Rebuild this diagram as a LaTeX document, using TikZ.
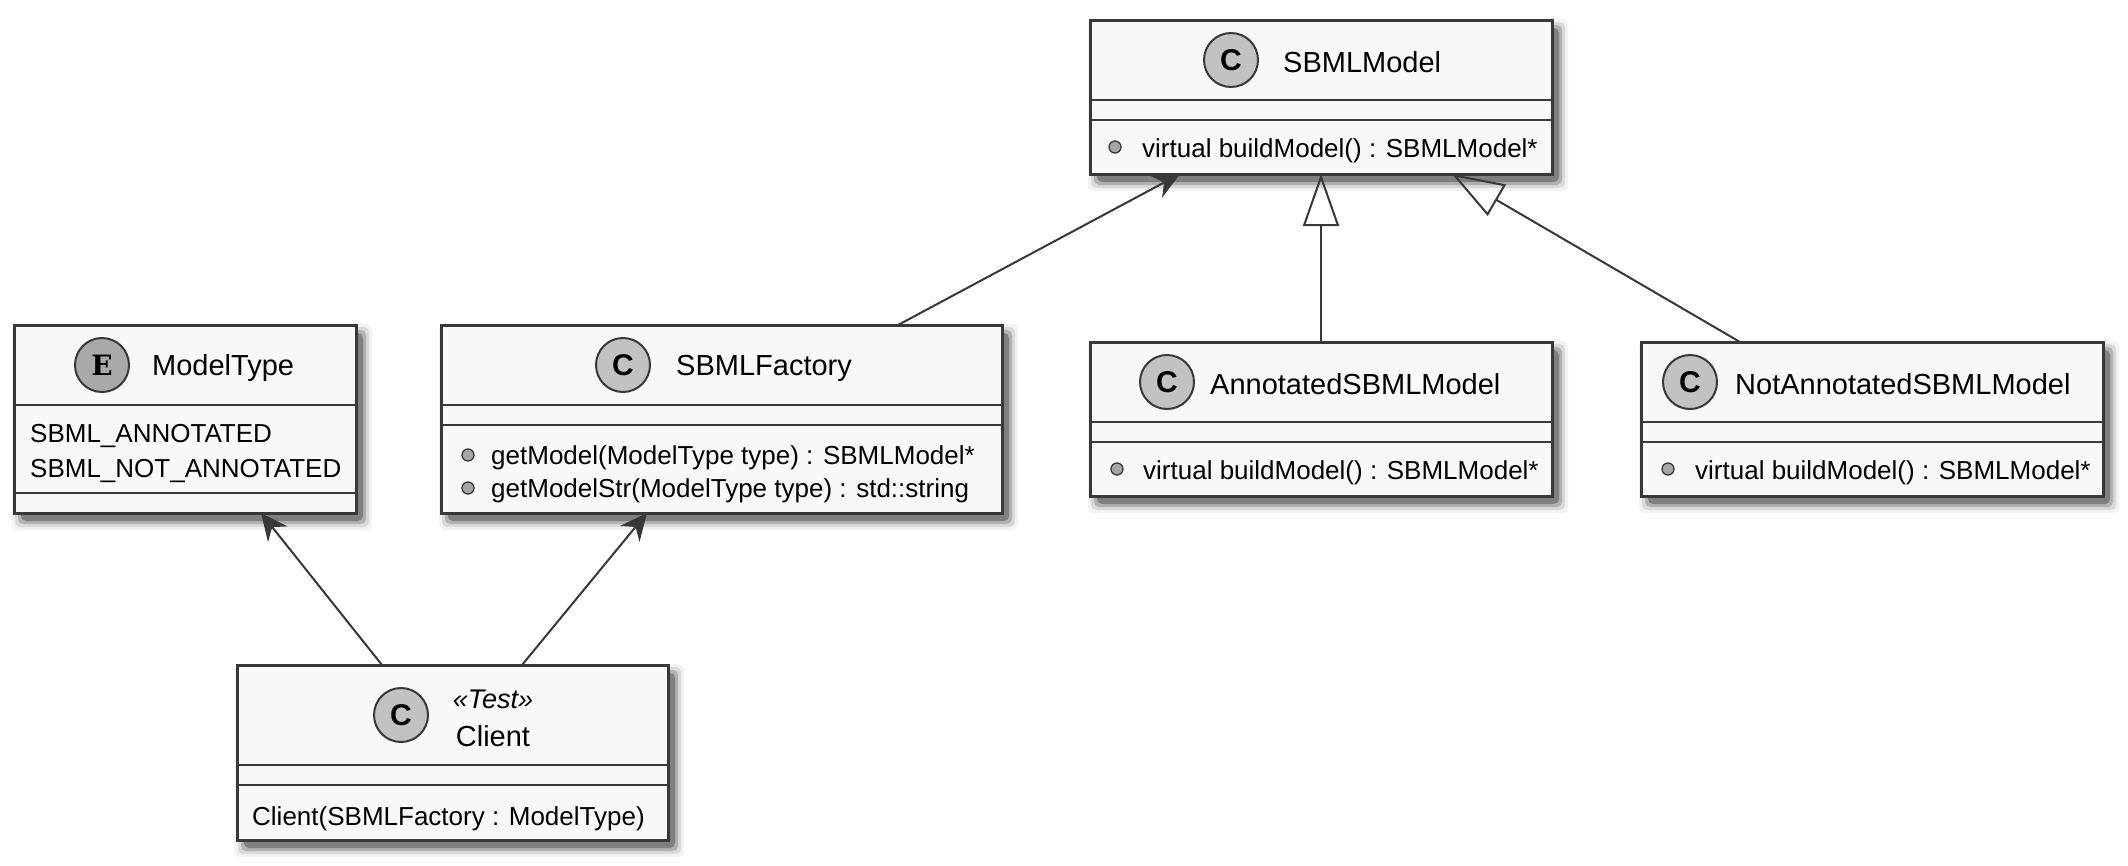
\documentclass[tikz,border=0pt]{standalone}
\usepackage{fontspec}
\setmainfont{Liberation Sans}
\newfontfamily\umlslab{DejaVu Serif}
\usetikzlibrary{arrows.meta,calc,backgrounds}
\definecolor{umlline}{HTML}{383838}
\definecolor{umlfill}{HTML}{F8F8F8}
\definecolor{cfill}{HTML}{C2C2C2}
\definecolor{efill}{HTML}{A9A9A9}
\definecolor{mfill}{HTML}{A6A6A6}
\tikzset{
  classbox/.style={draw=umlline, fill=umlfill, line width=3pt, rectangle, inner sep=0pt, outer sep=0pt},
  sepline/.style={draw=umlline, line width=2.5pt},
  badge/.style={circle, draw=umlline, line width=2pt, minimum size=54pt, inner sep=0pt},
  badgeC/.style={badge, fill=cfill, font=\fontsize{30}{30}\selectfont\bfseries},
  badgeE/.style={badge, fill=efill, font=\umlslab\fontsize{28}{28}\selectfont\bfseries},
  title/.style={anchor=base west, inner sep=0pt, font=\fontsize{29}{34}\selectfont},
  stereo/.style={anchor=base, inner sep=0pt, font=\fontsize{27}{32}\selectfont\itshape},
  ctitle/.style={anchor=base, inner sep=0pt, font=\fontsize{29}{34}\selectfont},
  member/.style={anchor=base west, inner sep=0pt, font=\fontsize{26}{30}\selectfont},
  mdot/.style={circle, draw=umlline, line width=1.3pt, fill=mfill, minimum size=12pt, inner sep=0pt},
  assoc/.style={draw=umlline, line width=2pt, -{Stealth[length=27pt,width=25pt,inset=9pt]}},
  generalize/.style={draw=umlline, line width=2pt, -{Triangle[open,length=52pt,width=36pt]}},
}
\begin{document}
\begin{tikzpicture}[x=1pt,y=-1pt]
\useasboundingbox (0,0) rectangle (2128,865);

% class boxes
\node[classbox, minimum width=342pt, minimum height=188pt] (mt) at (185,419) {};
\node[classbox, minimum width=561pt, minimum height=188pt] (sf) at (721.5,419) {};
\node[classbox, minimum width=462pt, minimum height=154pt] (sm) at (1321,97) {};
\node[classbox, minimum width=462pt, minimum height=154pt] (an) at (1321,419) {};
\node[classbox, minimum width=462pt, minimum height=154pt] (na) at (1872,419) {};
\node[classbox, minimum width=431pt, minimum height=175pt] (ct) at (452.5,752.5) {};

% shadows and background
\begin{scope}[on background layer]
  \fill[white] (0,0) rectangle (2128,865);
  \foreach \n in {mt,sf,sm,an,na,ct}{
    \foreach \d/\op in {0/0.28,3/0.18,6/0.10,9/0.05}{
      \fill[black, opacity=\op, rounded corners=5pt]
        ($(\n.north west)+(7-\d,8-\d)$) rectangle ($(\n.south east)+(7+\d,8+\d)$);
    }
  }
\end{scope}

% separators
\foreach \n/\a/\b in {mt/80/168, sf/80/100, sm/80/100, an/80/100, na/80/100, ct/100/120}{
  \draw[sepline] ($(\n.north west)+(0,\a)$) -- ($(\n.north east)+(0,\a)$);
  \draw[sepline] ($(\n.north west)+(0,\b)$) -- ($(\n.north east)+(0,\b)$);
}

% ModelType
\node[badgeE] (mtb) at (102,365) {E};
\node[title] (mtt) at (152,375) {ModelType};
\node[member] (mtf1) at (30,442) {SBML\_ANNOTATED};
\node[member] (mtf2) at (30,477) {SBML\_NOT\_ANNOTATED};

% SBMLFactory
\node[badgeC] (sfb) at (623,365) {C};
\node[title] (sft) at (676,375) {SBMLFactory};
\node[mdot] (sfd1) at (468,455) {};
\node[member] (sfm1) at (491,464) {getModel(ModelType type) : SBMLModel*};
\node[mdot] (sfd2) at (468,488) {};
\node[member] (sfm2) at (491,497) {getModelStr(ModelType type) : std::string};

% SBMLModel
\node[badgeC] (smb) at (1231,60) {C};
\node[title] (smt) at (1283,72) {SBMLModel};
\node[mdot] (smd) at (1115,147) {};
\node[member] (smm) at (1142,157) {virtual buildModel() : SBMLModel*};

% AnnotatedSBMLModel
\node[badgeC] (anb) at (1167,382) {C};
\node[title] (ant) at (1210,394) {AnnotatedSBMLModel};
\node[mdot] (and) at (1117,469) {};
\node[member] (anm) at (1143,479) {virtual buildModel() : SBMLModel*};

% NotAnnotatedSBMLModel
\node[badgeC] (nab) at (1690,382) {C};
\node[title] (nat) at (1735,394) {NotAnnotatedSBMLModel};
\node[mdot] (nad) at (1668,469) {};
\node[member] (nam) at (1695,479) {virtual buildModel() : SBMLModel*};

% Client
\node[badgeC] (ctb) at (401,715) {C};
\node[stereo] (cts) at (493,708) {«Test»};
\node[ctitle] (ctt) at (493,746) {Client};
\node[member] (ctm) at (252,825) {Client(SBMLFactory : ModelType)};

% connectors
\draw[assoc] ($(ct.north west)+(145,0)$) -- ($(mt.south west)+(247,0)$);
\draw[assoc] ($(ct.north west)+(285,0)$) -- ($(sf.south west)+(206,0)$);
\draw[assoc] ($(sf.north west)+(457,0)$) -- ($(sm.south west)+(90,0)$);
\draw[generalize] (an.north) -- (sm.south);
\draw[generalize] ($(na.north west)+(99,0)$) -- ($(sm.south west)+(362,0)$);
\end{tikzpicture}
\end{document}
